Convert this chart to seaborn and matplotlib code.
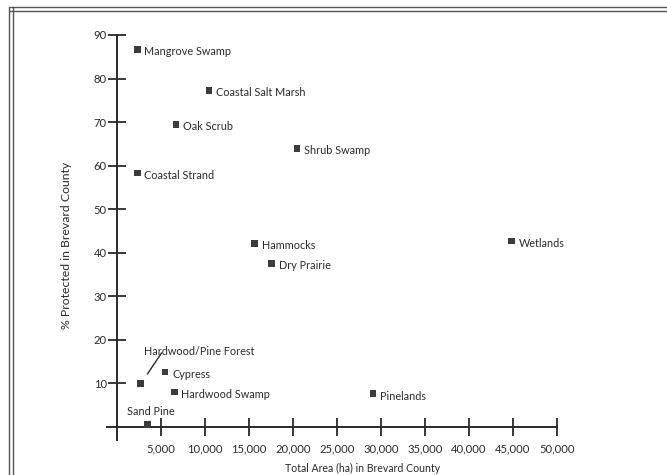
import matplotlib
matplotlib.use("Agg")
import matplotlib.pyplot as plt
from matplotlib.lines import Line2D
import seaborn as sns
import pandas as pd

communities = ["Mangrove Swamp", "Coastal Salt Marsh", "Oak Scrub", "Shrub Swamp",
               "Coastal Strand", "Hammocks", "Dry Prairie", "Wetlands", "Pinelands",
               "Hardwood/Pine Forest", "Cypress", "Hardwood Swamp", "Sand Pine"]
area_ha = [2300, 10450, 6700, 20450, 2300, 15600, 17600, 44800, 29100,
           2700, 5450, 6500, 3500]
pct_protected = [86.7, 77.3, 69.5, 64.0, 58.3, 42.2, 37.6, 42.7, 7.6,
                 9.9, 12.6, 8.0, 0.5]

x_ticks = [5000, 10000, 15000, 20000, 25000, 30000, 35000, 40000, 45000, 50000]
x_tick_labels = ["5,000", "10,000", "15,000", "20,000", "25,000", "30,000",
                 "35,000", "40,000", "45,000", "50,000"]
y_ticks = [10, 20, 30, 40, 50, 60, 70, 80, 90]

df = pd.DataFrame({"community": communities, "area": area_ha, "pct": pct_protected})

sns.set_style("white")
plt.rcParams["font.family"] = ["Lato", "DejaVu Sans"]

ink = "#2a2a2a"
fig = plt.figure(figsize=(6.67, 4.75), dpi=100)
ax = fig.add_axes([107 / 667, 35 / 475, 450 / 667, 405 / 475])

sns.scatterplot(data=df, x="area", y="pct", marker="s", s=24, color="#3c3c3c",
                edgecolor="none", ax=ax, zorder=3, clip_on=False)

ax.set_xlim(-1140, 50000)
ax.set_ylim(-3, 90)

for side in ["top", "right"]:
    ax.spines[side].set_visible(False)
ax.spines["left"].set_position(("data", 0))
ax.spines["bottom"].set_position(("data", 0))
for side in ["left", "bottom"]:
    ax.spines[side].set_color(ink)
    ax.spines[side].set_linewidth(1.4)

ax.set_xticks(x_ticks)
ax.set_xticklabels(x_tick_labels)
ax.set_yticks(y_ticks)
ax.tick_params(axis="both", direction="inout", length=13.5, width=1.3, color=ink,
               labelcolor=ink, labelsize=8.1, bottom=True, left=True)
ax.tick_params(axis="x", pad=5)
ax.tick_params(axis="y", pad=0.5)

ax.set_xlabel("Total Area (ha) in Brevard County", fontsize=7.6, color=ink)
ax.set_ylabel("% Protected in Brevard County", fontsize=8.8, color=ink)
ax.xaxis.set_label_coords(0.569, -0.056)
ax.yaxis.set_label_coords(-0.078, 0.48)

special = {"Hardwood/Pine Forest", "Sand Pine"}
for name, xv, yv in zip(communities, area_ha, pct_protected):
    if name in special:
        continue
    ax.annotate(name, (xv, yv), xytext=(5.2, -1.8), textcoords="offset points",
                ha="left", va="center", fontsize=7.8, color=ink, annotation_clip=False)

i = communities.index("Hardwood/Pine Forest")
ax.annotate("Hardwood/Pine Forest", (area_ha[i], pct_protected[i]), xytext=(2.2, 23),
            textcoords="offset points", ha="left", va="center", fontsize=7.8, color=ink)
ax.annotate("", (area_ha[i], pct_protected[i]), xytext=(15, 22.3),
            textcoords="offset points",
            arrowprops=dict(arrowstyle="-", color=ink, lw=1.0, shrinkA=0, shrinkB=8.5))
i = communities.index("Sand Pine")
ax.annotate("Sand Pine", (area_ha[i], pct_protected[i]), xytext=(2, 9.5),
            textcoords="offset points", ha="center", va="center", fontsize=7.8,
            color=ink, annotation_clip=False)

# scanned page frame (double rule on left and top)
for xf in (9 / 667, 13 / 667):
    fig.add_artist(Line2D([xf, xf], [0, 1 - 7 / 475], transform=fig.transFigure,
                          color="#555555", lw=1.0))
for yf in (1 - 7 / 475, 1 - 11 / 475):
    fig.add_artist(Line2D([9 / 667, 1], [yf, yf], transform=fig.transFigure,
                          color="#555555", lw=1.0))

fig.savefig("out.png", dpi=100)
